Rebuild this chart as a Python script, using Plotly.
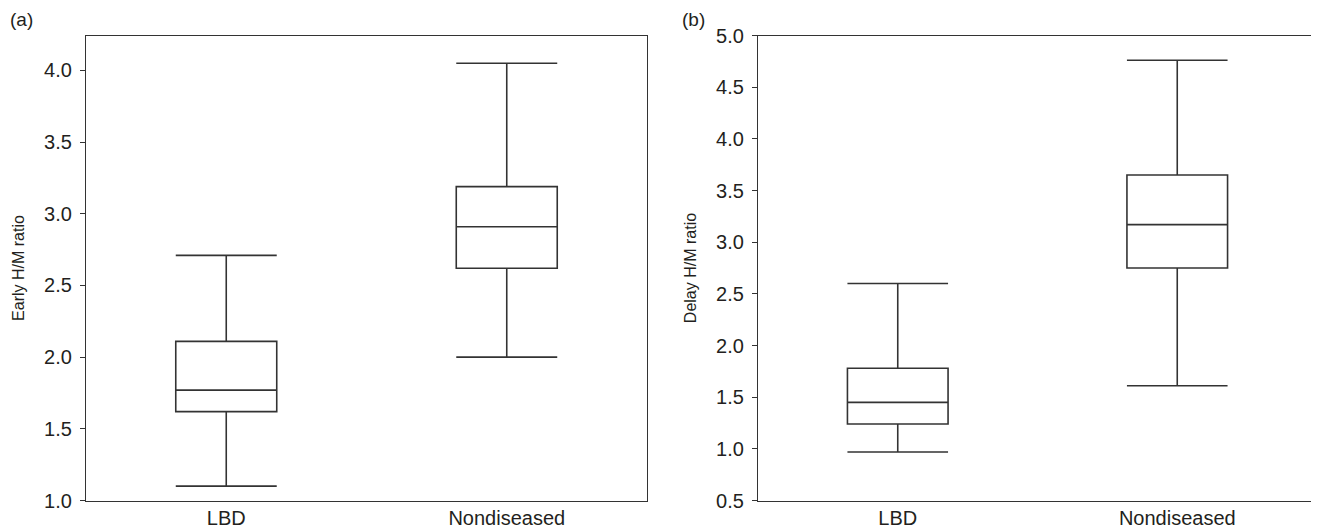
import plotly.graph_objects as go

categories = ["LBD", "Nondiseased"]

# Panel (a) Early H/M ratio
early_lower = [1.10, 2.00]
early_q1 = [1.62, 2.62]
early_median = [1.77, 2.91]
early_q3 = [2.11, 3.19]
early_upper = [2.71, 4.05]

# Panel (b) Delay H/M ratio
delay_lower = [0.97, 1.61]
delay_q1 = [1.24, 2.75]
delay_median = [1.45, 3.17]
delay_q3 = [1.78, 3.65]
delay_upper = [2.60, 4.76]

early_ticks = [1.0, 1.5, 2.0, 2.5, 3.0, 3.5, 4.0]
delay_ticks = [0.5, 1.0, 1.5, 2.0, 2.5, 3.0, 3.5, 4.0, 4.5, 5.0]

INK = "#231f20"
FONT = "Liberation Sans, Arial, Helvetica, sans-serif"

fig = go.Figure()

box_style = dict(
    line=dict(color="#333333", width=1.6),
    fillcolor="white",
    whiskerwidth=1,
    width=0.36,
    boxpoints=False,
    showlegend=False,
    hoverinfo="skip",
)

fig.add_trace(go.Box(
    x=categories, q1=early_q1, median=early_median, q3=early_q3,
    lowerfence=early_lower, upperfence=early_upper,
    xaxis="x", yaxis="y", **box_style))

fig.add_trace(go.Box(
    x=categories, q1=delay_q1, median=delay_median, q3=delay_q3,
    lowerfence=delay_lower, upperfence=delay_upper,
    xaxis="x2", yaxis="y2", **box_style))

# page has an 8px body margin; figure coordinates = page coordinates - 8
OFF = 8
W, H = 1319 - OFF, 531 - OFF
ydom = [1 - (500.5 - OFF) / H, 1 - (35.5 - OFF) / H]

axis_common = dict(
    showline=True, linecolor="#333333", linewidth=1.3, mirror=True,
    showgrid=False, zeroline=False, automargin=False,
    tickfont=dict(family=FONT, size=20, color=INK),
)

fig.update_layout(
    width=W, height=H,
    margin=dict(l=0, r=0, t=0, b=0),
    paper_bgcolor="white", plot_bgcolor="white",
    font=dict(family=FONT, color=INK),
    xaxis=dict(domain=[(86 - OFF) / W, (647 - OFF) / W], range=[-0.5, 1.5], type="category",
               ticks="", ticklabelstandoff=-1, anchor="y", **axis_common),
    yaxis=dict(domain=ydom, range=[1.0, 4.244], tickvals=early_ticks,
               ticktext=[f"{v:.1f}" for v in early_ticks],
               ticks="outside", ticklen=5, tickwidth=1.3, tickcolor="#333333",
               ticklabelstandoff=4, anchor="x",
               title=dict(text="Early H/M ratio", font=dict(family=FONT, size=16, color=INK), standoff=15),
               **axis_common),
    xaxis2=dict(domain=[(758 - OFF) / W, (1317 - OFF) / W], range=[-0.5, 1.5], type="category",
                ticks="", ticklabelstandoff=-1, anchor="y2", **axis_common),
    yaxis2=dict(domain=ydom, range=[0.5, 5.0], tickvals=delay_ticks,
                ticktext=[f"{v:.1f}" for v in delay_ticks],
                ticks="outside", ticklen=5, tickwidth=1.3, tickcolor="#333333",
                ticklabelstandoff=4, anchor="x2",
                title=dict(text="Delay H/M ratio", font=dict(family=FONT, size=16, color=INK), standoff=15),
                **axis_common),
    annotations=[
        dict(text="(a)", x=0, y=1 - (19 - OFF) / H, xref="paper", yref="paper",
             xanchor="left", yanchor="middle", showarrow=False,
             font=dict(family=FONT, size=19, color=INK)),
        dict(text="(b)", x=(680 - OFF) / W, y=1 - (19 - OFF) / H, xref="paper", yref="paper",
             xanchor="left", yanchor="middle", showarrow=False,
             font=dict(family=FONT, size=19, color=INK)),
    ],
)

fig.write_html("out.html")
